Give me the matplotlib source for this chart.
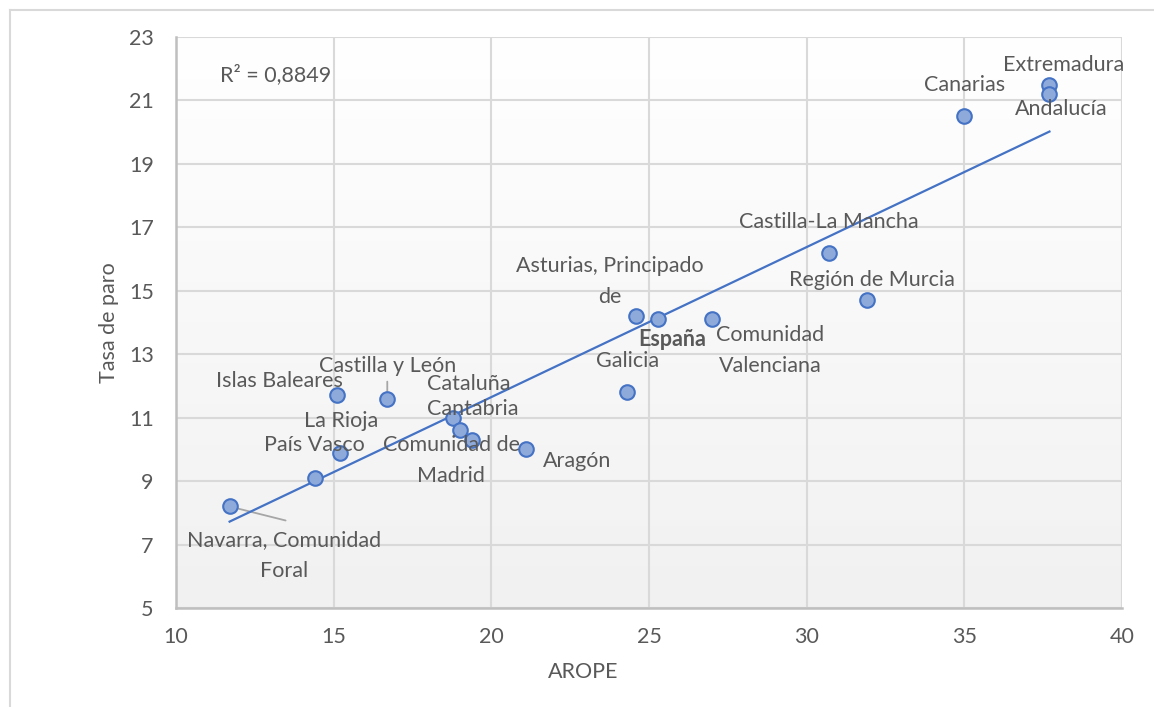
import numpy as np
import matplotlib
matplotlib.use("Agg")
import matplotlib.pyplot as plt
from matplotlib.lines import Line2D


# Datos por comunidad autónoma: tasa AROPE y tasa de paro
regiones = [
    "Navarra, Comunidad\nForal", "País Vasco", "La Rioja", "Islas Baleares",
    "Castilla y León", "Cataluña", "Cantabria", "Comunidad de\nMadrid",
    "Aragón", "Galicia", "Asturias, Principado\nde", "España",
    "Comunidad\nValenciana", "Castilla-La Mancha", "Región de Murcia",
    "Canarias", "Extremadura", "Andalucía",
]
arope = [11.7, 14.4, 15.2, 15.1, 16.7, 18.8, 19.0, 19.4, 21.1, 24.3,
         24.6, 25.3, 27.0, 30.7, 31.9, 35.0, 37.7, 37.7]
paro = [8.2, 9.1, 9.9, 11.7, 11.6, 11.0, 10.6, 10.3, 10.0, 11.8,
        14.2, 14.1, 14.1, 16.2, 14.7, 20.5, 21.5, 21.2]

x_ticks = [10, 15, 20, 25, 30, 35, 40]
y_ticks = [5, 7, 9, 11, 13, 15, 17, 19, 21, 23]
r2_texto = "R² = 0,8849"

# desplazamiento de cada etiqueta respecto a su punto (px)
offsets = {
    "Navarra, Comunidad\nForal": (54, -49),
    "País Vasco": (0, 33),
    "La Rioja": (1, 32),
    "Islas Baleares": (-57, 14),
    "Castilla y León": (0, 33),
    "Cataluña": (15, 34),
    "Cantabria": (13, 21),
    "Comunidad de\nMadrid": (-21, -21),
    "Aragón": (51, -12),
    "Galicia": (1, 31),
    "Asturias, Principado\nde": (-27, 35),
    "España": (14, -20),
    "Comunidad\nValenciana": (58, -31),
    "Castilla-La Mancha": (0, 31),
    "Región de Murcia": (5, 20),
    "Canarias": (0, 31),
    "Extremadura": (14, 20),
    "Andalucía": (12, -15),
}

TEXT = "#595959"
GRID = "#d9d9d9"
AZUL = "#4472c4"
FS = 15.5

plt.rcParams["font.family"] = ["Lato", "DejaVu Sans"]

fig = plt.figure(figsize=(11.54, 7.07), dpi=100)
ax = fig.add_axes([176 / 1154, 1 - 608 / 707, 946 / 1154, 571 / 707])

# fondo degradado del área de trazado
grad = np.linspace(1.0, 0.0, 256).reshape(-1, 1)
ax.imshow(grad, extent=[0, 1, 0, 1], transform=ax.transAxes,
          cmap=matplotlib.colors.LinearSegmentedColormap.from_list(
              "fondo", ["#f1f1f1", "#ffffff"]),
          aspect="auto", zorder=0)

ax.set_xlim(10, 40)
ax.set_ylim(5, 23)
ax.set_xticks(x_ticks)
ax.set_yticks(y_ticks)
ax.grid(True, color=GRID, linewidth=1.5, zorder=1)
ax.set_axisbelow(True)

for lado in ["top", "right"]:
    ax.spines[lado].set_visible(False)
for lado in ["left", "bottom"]:
    ax.spines[lado].set_color("#bfbfbf")
    ax.spines[lado].set_linewidth(1.8)

ax.tick_params(length=0, labelsize=FS, labelcolor=TEXT)
ax.tick_params(axis="x", pad=14)
ax.tick_params(axis="y", pad=16)
ax.set_xlabel("AROPE", fontsize=FS, color=TEXT, labelpad=9)
ax.xaxis.set_label_coords(0.43, -0.095)
ax.set_ylabel("Tasa de paro", fontsize=FS, color=TEXT, labelpad=7)

# línea de tendencia (ajuste lineal)
xa = np.array(arope)
ya = np.array(paro)
pend, corte = np.polyfit(xa, ya, 1)
xt = np.array([xa.min(), xa.max()])
ax.plot(xt, pend * xt + corte, color=AZUL, linewidth=1.6, zorder=3)

ax.scatter(xa, ya, s=110, facecolor="#8eaadb", edgecolor=AZUL,
           linewidth=1.5, zorder=4)

for nombre, xv, yv in zip(regiones, arope, paro):
    dx, dy = offsets[nombre]
    peso = "bold" if nombre == "España" else "normal"
    ax.annotate(nombre, (xv, yv), xytext=(dx, dy), textcoords="offset pixels",
                ha="center", va="center", fontsize=FS, color=TEXT,
                fontweight=peso, linespacing=1.7, zorder=5)

# líneas guía de algunas etiquetas
navarra = regiones.index("Navarra, Comunidad\nForal")
ax.annotate("", (arope[navarra], paro[navarra]), xytext=(56, -14),
            textcoords="offset pixels",
            arrowprops=dict(arrowstyle="-", color="#a6a6a6", lw=1.3,
                            shrinkA=0, shrinkB=2), zorder=2)
cyl = regiones.index("Castilla y León")
ax.annotate("", (arope[cyl], paro[cyl]), xytext=(0, 17),
            textcoords="offset pixels",
            arrowprops=dict(arrowstyle="-", color="#a6a6a6", lw=1.3,
                            shrinkA=0, shrinkB=2), zorder=2)

ax.text(0.047, 0.934, r2_texto, transform=ax.transAxes, fontsize=FS,
        color=TEXT, ha="left", va="center")

# borde del gráfico
fig.add_artist(Line2D([10 / 1154, 10 / 1154], [0, 1 - 10 / 707],
                      transform=fig.transFigure, color="#d9d9d9", lw=1.5))
fig.add_artist(Line2D([10 / 1154, 1], [1 - 10 / 707, 1 - 10 / 707],
                      transform=fig.transFigure, color="#d9d9d9", lw=1.5))

fig.savefig("out.png", dpi=100, facecolor="white")
